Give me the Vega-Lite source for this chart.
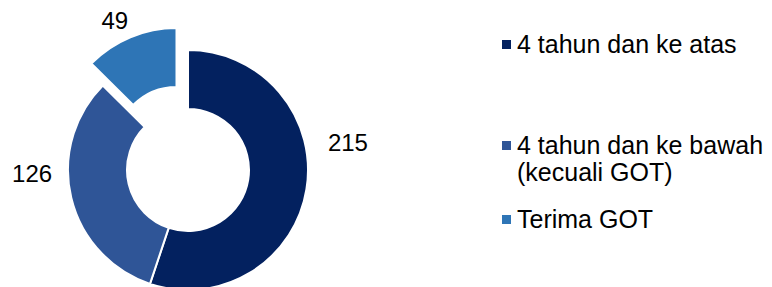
{
  "$schema": "https://vega.github.io/schema/vega-lite/v6.json",
  "width": 376,
  "height": 287,
  "padding": 0,
  "background": "white",
  "config": {"view": {"stroke": null}},
  "data": {
    "values": [
      {"kategori": "4 tahun dan ke atas", "jumlah": 215, "urutan": 1},
      {"kategori": "4 tahun dan ke bawah (kecuali GOT)", "jumlah": 126, "urutan": 2},
      {"kategori": "Terima GOT", "jumlah": 49, "urutan": 3}
    ]
  },
  "encoding": {
    "theta": {"field": "jumlah", "type": "quantitative", "stack": true},
    "order": {"field": "urutan", "type": "quantitative"},
    "color": {
      "field": "kategori", "type": "nominal",
      "scale": {"domain": ["4 tahun dan ke atas", "4 tahun dan ke bawah (kecuali GOT)", "Terima GOT"], "range": ["#03215F", "#2F5597", "#2E75B6"]},
      "legend": {
        "title": null,
        "orient": "none",
        "direction": "vertical",
        "legendX": 494,
        "legendY": 32,
        "symbolType": "square",
        "symbolSize": 81,
        "symbolStrokeWidth": 0,
        "labelFont": "Liberation Sans",
        "labelFontSize": 25,
        "labelColor": "black",
        "labelOffset": -2,
        "labelLimit": 400,
        "labelBaseline": "middle",
        "rowPadding": 21,
        "labelExpr": "datum.label == '4 tahun dan ke bawah (kecuali GOT)' ? ['4 tahun dan ke bawah', '(kecuali GOT)'] : datum.label == '4 tahun dan ke atas' ? ['4 tahun dan ke atas', '', ''] : datum.label"
      }
    }
  },
  "layer": [
    {
      "mark": {"type": "arc", "outerRadius": 120, "innerRadius": 61, "stroke": "white", "strokeWidth": 2, "yOffset": 26.5, "clip": true},
      "encoding": {
        "opacity": {"condition": {"test": "datum.kategori == 'Terima GOT'", "value": 0}, "value": 1}
      }
    },
    {
      "mark": {"type": "arc", "outerRadius": 120, "innerRadius": 61, "stroke": "white", "strokeWidth": 2, "xOffset": -11.5, "yOffset": 4.5},
      "encoding": {
        "opacity": {"condition": {"test": "datum.kategori == 'Terima GOT'", "value": 1}, "value": 0}
      }
    },
    {
      "mark": {"type": "text", "radius": 162, "thetaOffset": -0.321, "yOffset": 26.5, "font": "Liberation Sans", "fontSize": 24},
      "encoding": {
        "color": {"value": "black"},
        "detail": {"field": "kategori", "type": "nominal"},
        "text": {"condition": {"test": "datum.kategori == '4 tahun dan ke atas'", "field": "jumlah", "type": "quantitative"}, "value": ""}
      }
    },
    {
      "mark": {"type": "text", "radius": 156, "thetaOffset": 0.2025, "yOffset": 26.5, "font": "Liberation Sans", "fontSize": 24},
      "encoding": {
        "color": {"value": "black"},
        "detail": {"field": "kategori", "type": "nominal"},
        "text": {"condition": {"test": "datum.kategori == '4 tahun dan ke bawah (kecuali GOT)'", "field": "jumlah", "type": "quantitative"}, "value": ""}
      }
    },
    {
      "mark": {"type": "text", "radius": 165, "thetaOffset": -0.065, "yOffset": 26.5, "font": "Liberation Sans", "fontSize": 24},
      "encoding": {
        "color": {"value": "black"},
        "detail": {"field": "kategori", "type": "nominal"},
        "text": {"condition": {"test": "datum.kategori == 'Terima GOT'", "field": "jumlah", "type": "quantitative"}, "value": ""}
      }
    }
  ]
}
